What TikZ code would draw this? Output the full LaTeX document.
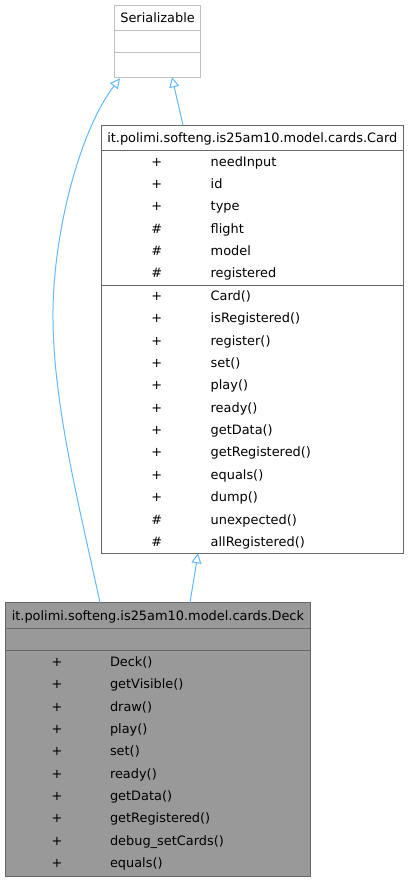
\documentclass[tikz,border=0pt]{standalone}
\usepackage{fontspec}
\setmainfont{DejaVu Sans}
\usetikzlibrary{arrows.meta,calc}
\definecolor{edgeblue}{HTML}{63B8FF}
\definecolor{lightborder}{HTML}{BFBFBF}
\definecolor{darkborder}{HTML}{666666}
\definecolor{deckfill}{HTML}{999999}
\begin{document}
\begin{tikzpicture}[x=0.75pt,y=-0.75pt,
  every node/.style={font=\fontsize{9.68}{11}\selectfont, inner sep=0pt, outer sep=0pt},
  classbox/.style={draw=darkborder, line width=0.75pt, anchor=north west, minimum width=#1, fill=white},
  txt/.style={anchor=base},
  txtl/.style={anchor=base west},
  inherit/.style={draw=edgeblue, line width=0.75pt, -{Triangle[open, length=7.5pt, width=7.5pt]}},
  sepline/.style={draw=darkborder, line width=0.75pt}
]
\useasboundingbox (0,0) rectangle (410,882);

% Serializable
\node[classbox=65.0pt, draw=lightborder, minimum height=54.2pt] (serial) at (114.3,5) {};
\draw[draw=lightborder, line width=0.75pt] ($(serial.north west)+(0,25.7)$) -- ($(serial.north east)+(0,25.7)$);
\draw[draw=lightborder, line width=0.75pt] ($(serial.north west)+(0,47.3)$) -- ($(serial.north east)+(0,47.3)$);
\node[txt] (serialT) at (157.6,22.6) {Serializable};

% Card
\node[classbox=227.0pt, minimum height=321.2pt] (card) at (101,125) {};
\draw[sepline] ($(card.north west)+(0,25.7)$) -- ($(card.north east)+(0,25.7)$);
\draw[sepline] ($(card.north west)+(0,160.5)$) -- ($(card.north east)+(0,160.5)$);
\node[txt] (cardT) at (252.3,142.4) {it.polimi.softeng.is25am10.model.cards.Card};
\foreach \s/\n [count=\i from 0] in {+/needInput, +/id, +/type, \#/flight, \#/model, \#/registered}{
  \node[txt] (cas\i) at (156.7,{166.4+22.2*\i}) {\s};
  \node[txtl] (can\i) at (210.7,{166.4+22.2*\i}) {\n};
}
\foreach \s/\n [count=\i from 0] in {+/Card(), +/isRegistered(), +/register(), +/set(), +/play(), +/ready(), +/getData(), +/getRegistered(), +/equals(), +/dump(), \#/unexpected(), \#/allRegistered()}{
  \node[txt] (cms\i) at (156.7,{300.4+22.36*\i}) {\s};
  \node[txtl] (cmn\i) at (210.7,{300.4+22.36*\i}) {\n};
}

% Deck
\node[classbox=229.3pt, fill=deckfill, minimum height=205.5pt] (deck) at (5,602.7) {};
\draw[sepline] ($(deck.north west)+(0,25.6)$) -- ($(deck.north east)+(0,25.6)$);
\draw[sepline] ($(deck.north west)+(0,47.3)$) -- ($(deck.north east)+(0,47.3)$);
\node[txt] (deckT) at (157.9,620.2) {it.polimi.softeng.is25am10.model.cards.Deck};
\foreach \n [count=\i from 0] in {Deck(), getVisible(), draw(), play(), set(), ready(), getData(), getRegistered(), debug\_setCards(), equals()}{
  \node[txt] (dms\i) at (57,{666.4+22.33*\i}) {+};
  \node[txtl] (dmn\i) at (110,{666.4+22.33*\i}) {\n};
}

% inheritance arrows
\draw[inherit] ($(card.north west)+(82,0)$) -- ($(serial.south west)+(57.7,0)$);
\draw[inherit] ($(deck.north west)+(185,0)$) -- ($(card.south west)+(97,0)$);
\draw[inherit] ($(deck.north west)+(95,0)$) .. controls (78,500) and (52,400) .. (53,310)
  .. controls (54,230) and (80,130) .. ($(serial.south west)+(5.7,1)$);
\end{tikzpicture}
\end{document}
